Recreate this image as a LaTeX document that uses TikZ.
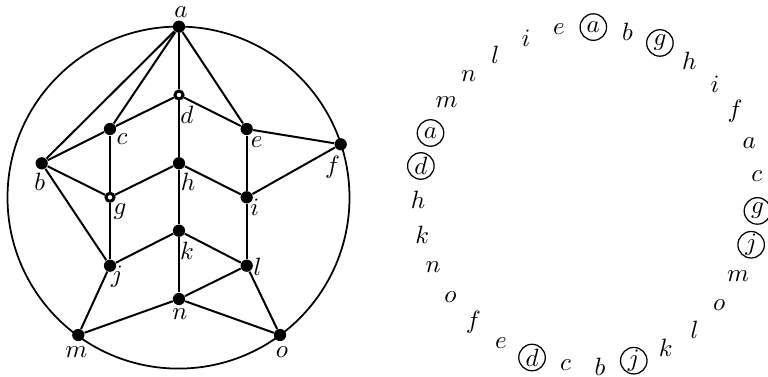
\documentclass[tikz,border=0pt]{standalone}
\usetikzlibrary{calc}
\begin{document}
\begin{tikzpicture}[x=0.4pt,y=-0.4pt,
  dot/.style={circle,fill=black,inner sep=0pt,minimum size=4.9pt},
  hollow/.style={circle,draw=black,fill=white,line width=1.2pt,inner sep=0pt,minimum size=3.2pt},
  edge/.style={line width=0.8pt},
  rim/.style={line width=0.7pt},
  lbl/.style={inner sep=0pt},
  seq0/.style={inner sep=0pt},
  seq1/.style={circle,draw,line width=0.5pt,inner sep=0.3pt,minimum size=10.6pt}]
\useasboundingbox (0,0) rectangle (768,377);
% left graph
\coordinate (O) at (178.5,197.6);
\draw[rim] (O) circle[radius=68.4pt];
\node[dot] (a) at (179,26.7) {};
\node[hollow] (d) at (179,95) {};
\node[dot] (c) at (110,129) {};
\node[dot] (e) at (246.7,129) {};
\node[dot] (b) at (41.7,163.3) {};
\node[dot] (f) at (340.7,144.3) {};
\node[dot] (h) at (179,163.3) {};
\node[hollow] (g) at (110,197.3) {};
\node[dot] (i) at (246.7,197.3) {};
\node[dot] (k) at (179,230.7) {};
\node[dot] (j) at (110,265.7) {};
\node[dot] (l) at (246.7,265.7) {};
\node[dot] (n) at (179,299) {};
\node[dot] (m) at (78.3,335) {};
\node[dot] (o) at (280,335) {};
\foreach \u/\v in {a/b,a/c,a/d,a/e,b/c,b/g,b/j,c/d,c/g,d/e,d/h,e/f,e/i,f/i,g/h,g/j,h/i,h/k,i/l,j/k,j/m,k/l,k/n,l/n,l/o,m/n,n/o}
  \draw[edge] (\u) -- (\v);
\node[lbl] (la) at ($(a)+(2,-14.4)$) {$a$};
\node[lbl] (ld) at ($(d)+(8,20)$) {$d$};
\node[lbl] (lc) at ($(c)+(12,10)$) {$c$};
\node[lbl] (le) at ($(e)+(10,13)$) {$e$};
\node[lbl] (lb) at ($(b)+(-2,19)$) {$b$};
\node[lbl] (lf) at ($(f)+(-8,23)$) {$f$};
\node[lbl] (lh) at ($(h)+(9,19)$) {$h$};
\node[lbl] (lg) at ($(g)+(10,14)$) {$g$};
\node[lbl] (li) at ($(i)+(8,10)$) {$i$};
\node[lbl] (lk) at ($(k)+(8,20)$) {$k$};
\node[lbl] (lj) at ($(j)+(7,11)$) {$j$};
\node[lbl] (ll) at ($(l)+(11,1)$) {$l$};
\node[lbl] (ln) at ($(n)+(1,15)$) {$n$};
\node[lbl] (lm) at ($(m)+(-2,17)$) {$m$};
\node[lbl] (lo) at ($(o)+(2,17)$) {$o$};
% right: circular sequence
\coordinate (C) at (588,197);
\foreach \t/\s [count=\q from 0] in {a/1,b/0,g/1,h/0,i/0,f/0,a/0,c/0,g/1,j/1,m/0,o/0,l/0,k/0,j/1,b/0,c/0,d/1,e/0,f/0,o/0,n/0,k/0,h/0,d/1,a/1,m/0,n/0,l/0,i/0,e/0}{
  \pgfmathsetmacro\ang{1.8+\q*360/31-90}
  \node[seq\s] (r\q) at ($(C)+(\ang:170)$) {$\t$};
}
\end{tikzpicture}
\end{document}
